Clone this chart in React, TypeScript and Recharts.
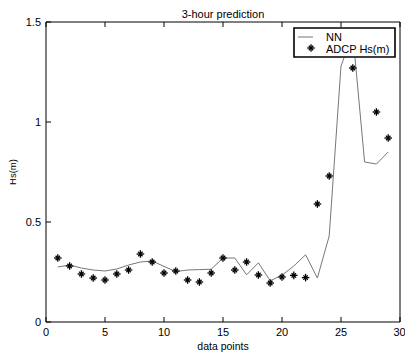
import {
  ComposedChart,
  Line,
  Scatter,
  XAxis,
  YAxis,
  Legend,
} from "recharts";

const points = [
  1, 2, 3, 4, 5, 6, 7, 8, 9, 10, 11, 12, 13, 14, 15, 16, 17, 18, 19, 20, 21,
  22, 23, 24, 25, 26, 27, 28, 29,
];
const nnValues = [
  0.275, 0.285, 0.27, 0.26, 0.255, 0.265, 0.285, 0.3, 0.305, 0.278, 0.252,
  0.26, 0.262, 0.264, 0.32, 0.32, 0.236, 0.296, 0.206, 0.234, 0.28, 0.336,
  0.22, 0.43, 1.28, 1.44, 0.8, 0.79, 0.85,
];
const adcpValues = [
  0.32, 0.28, 0.24, 0.22, 0.21, 0.24, 0.26, 0.34, 0.3, 0.245, 0.255, 0.21,
  0.2, 0.245, 0.32, 0.26, 0.3, 0.235, 0.195, 0.225, 0.233, 0.222, 0.59, 0.73,
  1.4, 1.27, 1.38, 1.05, 0.92,
];
const xTicks = [0, 5, 10, 15, 20, 25, 30];
const yTicks = [0, 0.5, 1, 1.5];

const data = points.map((p, i) => ({ x: p, nn: nnValues[i], adcp: adcpValues[i] }));

const font = '"Liberation Sans", Arial, sans-serif';
const tickStyle = { fontSize: 11, fill: "#000", fontFamily: font };

function Star({ cx, cy }: { cx?: number; cy?: number }) {
  if (cx == null || cy == null) return null;
  const r = 3.8;
  const d = 2.2;
  return (
    <g stroke="#000" strokeWidth={1.3}>
      <line x1={cx - r} y1={cy} x2={cx + r} y2={cy} />
      <line x1={cx} y1={cy - r} x2={cx} y2={cy + r} />
      <line x1={cx - d} y1={cy - d} x2={cx + d} y2={cy + d} />
      <line x1={cx - d} y1={cy + d} x2={cx + d} y2={cy - d} />
    </g>
  );
}

function LegendBox() {
  return (
    <svg width={103} height={31} style={{ display: "block" }}>
      <path
        d="M1 1 H102 V30 H1 Z"
        fill="#fff"
        stroke="#000"
        strokeWidth={1.6}
      />
      <line x1={5} y1={10} x2={20} y2={10} stroke="#777" strokeWidth={1} />
      <text x={33} y={14} fontSize={11} fontFamily={font} fill="#000">
        NN
      </text>
      <Star cx={18} cy={21} />
      <text x={33} y={25.5} fontSize={11} fontFamily={font} fill="#000">
        ADCP Hs(m)
      </text>
    </svg>
  );
}

export default function App() {
  return (
    <div style={{ position: "absolute", left: 0, top: 0, background: "#fff" }}>
      <ComposedChart
        width={405}
        height={356}
        data={data}
        margin={{ top: 21, right: 4, left: 0, bottom: 0 }}
      >
        <XAxis
          dataKey="x"
          type="number"
          domain={[0, 30]}
          ticks={xTicks}
          tickSize={-5}
          tickMargin={11}
          tick={tickStyle}
          stroke="#000"
          height={34}
          label={{
            value: "data points",
            position: "insideBottom",
            offset: 6,
            style: { fontSize: 10.5, fill: "#000", fontFamily: font },
          }}
        />
        <XAxis
          xAxisId="top"
          orientation="top"
          dataKey="x"
          type="number"
          domain={[0, 30]}
          ticks={xTicks}
          tickSize={-5}
          tickFormatter={() => ""}
          stroke="#000"
          height={1}
          label={{
            value: "3-hour prediction",
            position: "top",
            offset: 3,
            style: { fontSize: 11, fill: "#000", fontFamily: font },
          }}
        />
        <YAxis
          type="number"
          domain={[0, 1.5]}
          ticks={yTicks}
          tickSize={-5}
          tickMargin={10}
          tick={tickStyle}
          stroke="#000"
          width={46}
          label={{
            value: "Hs(m)",
            angle: -90,
            position: "insideLeft",
            offset: 13,
            style: { fontSize: 9.5, fill: "#000", fontFamily: font, textAnchor: "middle" },
          }}
        />
        <YAxis
          yAxisId="right"
          orientation="right"
          type="number"
          domain={[0, 1.5]}
          ticks={yTicks}
          tickSize={-5}
          tickFormatter={() => ""}
          stroke="#000"
          width={1}
        />
        <Line
          dataKey="nn"
          type="linear"
          stroke="#777"
          strokeWidth={1}
          dot={false}
          isAnimationActive={false}
        />
        <Scatter
          dataKey="adcp"
          shape={(props: any) => <Star cx={props.cx} cy={props.cy} />}
          isAnimationActive={false}
        />
        <Legend
          layout="horizontal"
          verticalAlign="middle"
          align="center"
          content={() => <LegendBox />}
          wrapperStyle={{
            position: "absolute",
            left: 293,
            top: 27,
            width: 103,
            height: 31,
            background: "#fff",
          }}
        />
      </ComposedChart>
    </div>
  );
}
